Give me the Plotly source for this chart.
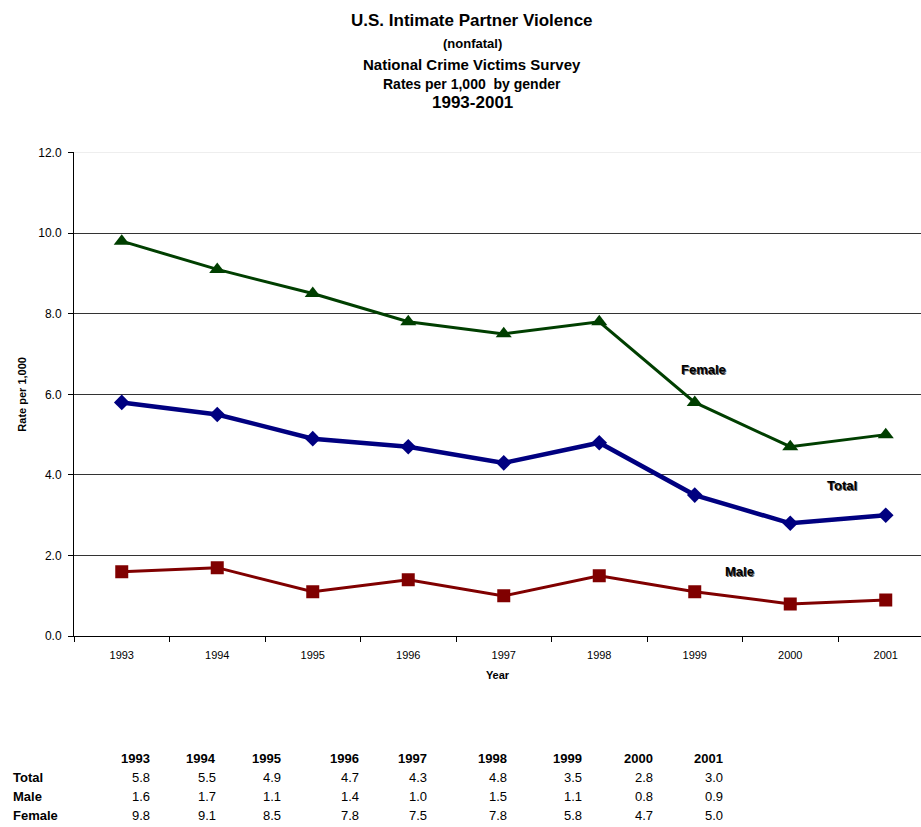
import plotly.graph_objects as go

years = ["1993", "1994", "1995", "1996", "1997", "1998", "1999", "2000", "2001"]
total = [5.8, 5.5, 4.9, 4.7, 4.3, 4.8, 3.5, 2.8, 3.0]
male = [1.6, 1.7, 1.1, 1.4, 1.0, 1.5, 1.1, 0.8, 0.9]
female = [9.8, 9.1, 8.5, 7.8, 7.5, 7.8, 5.8, 4.7, 5.0]
y_ticks = [0, 2, 4, 6, 8, 10, 12]
y_tick_text = ["0.0", "2.0", "4.0", "6.0", "8.0", "10.0", "12.0"]

W, H = 921, 827
FONT = "Liberation Sans, Arial, sans-serif"

# vertical pixel positions (page calibrated)
PLOT_TOP, PLOT_BOT = 148, 640

fig = go.Figure()
fig.add_trace(go.Scatter(x=years, y=female, mode="lines+markers", name="Female",
                         line=dict(color="#003f00", width=3),
                         marker=dict(symbol="triangle-up", size=14, color="#003f00")))
fig.add_trace(go.Scatter(x=years, y=total, mode="lines+markers", name="Total",
                         line=dict(color="#000080", width=4.5),
                         marker=dict(symbol="diamond", size=12, color="#000080")))
fig.add_trace(go.Scatter(x=years, y=male, mode="lines+markers", name="Male",
                         line=dict(color="#800000", width=3),
                         marker=dict(symbol="square", size=13, color="#800000")))

x_right = -0.5 + (W - 74) / 95.5

fig.update_layout(
    width=W, height=H,
    margin=dict(l=0, r=0, t=0, b=0),
    paper_bgcolor="white", plot_bgcolor="white",
    showlegend=False,
    font=dict(family=FONT, color="black", size=11),
    xaxis=dict(
        type="category", domain=[74 / W, 1], range=[-0.5, x_right],
        showline=True, linecolor="black", linewidth=1,
        ticks="outside", tickson="boundaries", ticklen=5, tickcolor="black",
        ticklabelstandoff=9,
        showgrid=False, tickfont=dict(size=11, family=FONT),
        title=dict(text="<b>Year</b>", font=dict(size=11, family=FONT), standoff=10),
    ),
    yaxis=dict(
        domain=[1 - PLOT_BOT / H, 1 - PLOT_TOP / H], range=[0, 12],
        tickvals=y_ticks, ticktext=y_tick_text,
        showline=True, linecolor="black", linewidth=1,
        ticks="outside", ticklen=5, tickcolor="black",
        ticklabelstandoff=4,
        showgrid=True, gridcolor="#333333", gridwidth=1,
        zeroline=False, tickfont=dict(size=12, family=FONT),
        title=dict(text="<b>Rate per 1,000</b>", font=dict(size=11, family=FONT), standoff=9),
    ),
)

# light top gridline (as in reference)
fig.add_shape(type="line", xref="paper", yref="y", x0=74 / W, x1=1, y0=12, y1=12,
              line=dict(color="#dddddd", width=1), layer="above")

# Title lines
title_lines = [
    ("U.S. Intimate Partner Violence", 17, 14),
    ("(nonfatal)", 13, 37),
    ("National Crime Victims Survey", 15, 58.5),
    ("Rates per 1,000  by gender", 14, 78),
    ("1993-2001", 17, 97),
]
for text, size, ypx in title_lines:
    fig.add_annotation(text="<b>" + text + "</b>", x=472 / W, y=1 - ypx / H,
                       xref="paper", yref="paper", showarrow=False,
                       xanchor="center", yanchor="middle",
                       font=dict(size=size, family=FONT, color="black"))

# Series labels
series_labels = [("Female", 6.09, 6.62), ("Total", 7.54, 3.74), ("Male", 6.47, 1.61)]
for text, xv, yv in series_labels:
    fig.add_annotation(text="<b>" + text + "</b>", x=xv, y=yv, xref="x", yref="y",
                       showarrow=False, xanchor="center", yanchor="middle",
                       font=dict(size=13, family=FONT, color="black",
                                 shadow="1px 1px 0px #555555"))

# Data table
col_right = [152, 218, 283, 361, 429, 509, 584, 655, 725]
header_y = 764
rows = [("Total", total, 784), ("Male", male, 803.5), ("Female", female, 822)]
for yr, xr in zip(years, col_right):
    fig.add_annotation(text="<b>" + yr + "</b>", x=xr / W, y=1 - header_y / H,
                       xref="paper", yref="paper", showarrow=False,
                       xanchor="right", yanchor="middle",
                       font=dict(size=13, family=FONT, color="black"))
for label, vals, ypx in rows:
    fig.add_annotation(text="<b>" + label + "</b>", x=11 / W, y=1 - ypx / H,
                       xref="paper", yref="paper", showarrow=False,
                       xanchor="left", yanchor="middle",
                       font=dict(size=13, family=FONT, color="black"))
    for v, xr in zip(vals, col_right):
        fig.add_annotation(text=f"{v:.1f}", x=xr / W, y=1 - ypx / H,
                           xref="paper", yref="paper", showarrow=False,
                           xanchor="right", yanchor="middle",
                           font=dict(size=13, family=FONT, color="black"))

fig.write_html("out.html", config={"displayModeBar": False},
               post_script="document.body.style.margin='0';document.body.style.overflow='hidden';")
